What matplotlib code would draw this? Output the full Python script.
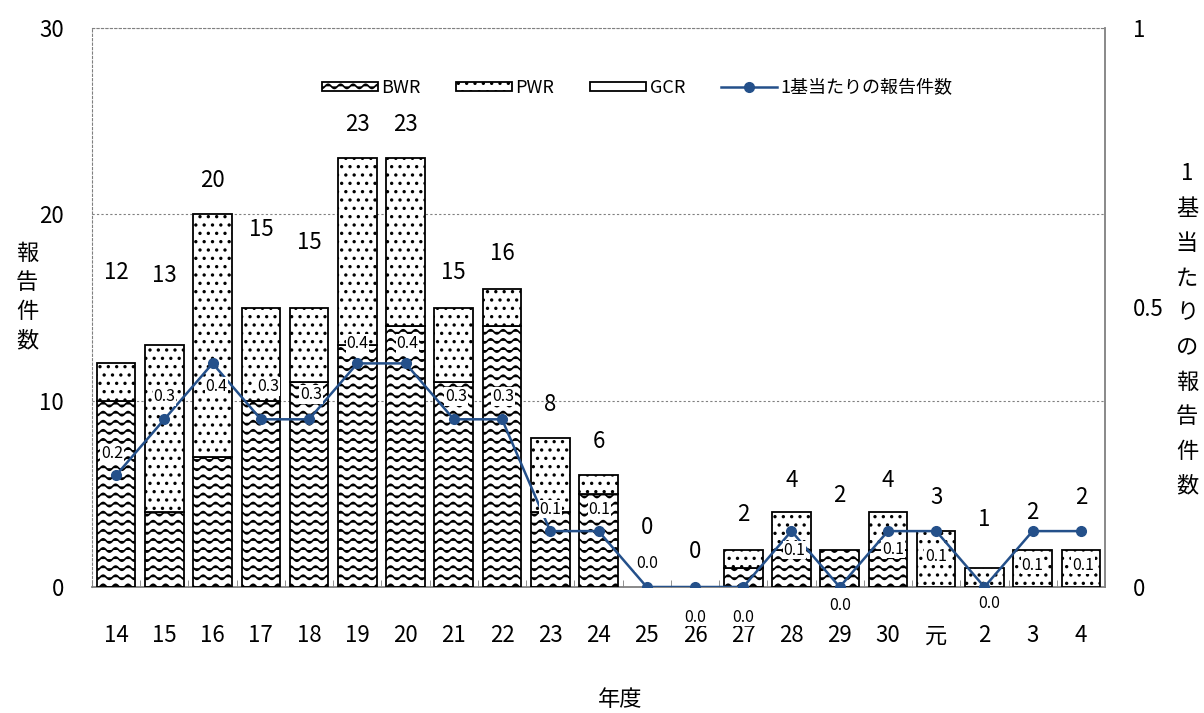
import warnings
import numpy as np
import matplotlib
matplotlib.use("Agg")
import matplotlib.pyplot as plt
import matplotlib.hatch as mhatch
from matplotlib.path import Path

warnings.filterwarnings("ignore", message=".*hatch must consist.*")

# ---------------- data ----------------
years = ['14', '15', '16', '17', '18', '19', '20', '21', '22', '23', '24',
         '25', '26', '27', '28', '29', '30', '元', '2', '3', '4']
bwr = [10, 4, 7, 10, 11, 13, 14, 11, 14, 4, 5, 0, 0, 1, 2, 2, 2, 0, 0, 0, 0]
pwr = [2, 9, 13, 5, 4, 10, 9, 4, 2, 4, 1, 0, 0, 1, 2, 0, 2, 3, 1, 2, 2]
gcr = [0] * 21
per_plant = [0.2, 0.3, 0.4, 0.3, 0.3, 0.4, 0.4, 0.3, 0.3, 0.1, 0.1,
             0.0, 0.0, 0.0, 0.1, 0.0, 0.1, 0.1, 0.0, 0.1, 0.1]

# label placement (styling)
total_label_y = [16.9, 16.7, 21.8, 19.2, 18.5, 24.8, 24.8, 16.9, 17.9, 9.8, 7.8,
                 3.2, 1.9, 3.9, 5.7, 4.9, 5.7, 4.8, 3.6, 4.0, 4.8]
line_label_dx = [-4, 0, 4, 7, 2, 0, 2, 2, 1, 0, 1, 0, 0, 0, 3, 0, 5, 0, 5, 0, 2]
line_label_dy = [22, 23, -23, 33, 25, 20, 20, 23, 23, 22, 22, 24, -30, -30,
                 -19, -18, -18, -25, -16, -34, -34]


# ---------------- custom wave hatch ----------------
class WaveHatch(mhatch.HatchPatternBase):
    def __init__(self, hatch, density):
        self.num_rows = 11 if '~' in hatch else 0
        self.pts = 129
        self.num_vertices = self.num_rows * self.pts

    def set_vertices_and_codes(self, vertices, codes):
        xs = np.linspace(0.0, 1.0, self.pts)
        for i in range(self.num_rows):
            y0 = (i + 0.5) / self.num_rows
            sl = slice(i * self.pts, (i + 1) * self.pts)
            vertices[sl, 0] = xs
            vertices[sl, 1] = y0 + 0.021 * np.sin(2 * np.pi * 8 * xs)
            codes[sl] = Path.LINETO
            codes[i * self.pts] = Path.MOVETO


mhatch._hatch_types.append(WaveHatch)

plt.rcParams['font.family'] = ['Noto Sans CJK JP', 'DejaVu Sans']
plt.rcParams['hatch.linewidth'] = 1.2

n = len(years)
x = np.arange(n)
bwr_a = np.array(bwr, float)
pwr_a = np.array(pwr, float)
gcr_a = np.array(gcr, float)
tot = bwr_a + pwr_a + gcr_a

def mask0(a):
    return np.where(a > 0, a, np.nan)

fig = plt.figure(figsize=(12.04, 7.13), dpi=100)
ax = fig.add_axes([92 / 1204, 1 - 587 / 713, (1105 - 92) / 1204, (587 - 28) / 713])

line_color = '#24508A'
bar_kw = dict(width=0.8, facecolor='white', edgecolor='black', linewidth=1.3, zorder=3)
b1 = ax.bar(x, mask0(bwr_a), bottom=0, hatch='~', label='BWR', **bar_kw)
b2 = ax.bar(x, mask0(pwr_a), bottom=bwr_a, hatch='..', label='PWR', **bar_kw)
b3 = ax.bar(x, mask0(gcr_a), bottom=bwr_a + pwr_a, label='GCR', **bar_kw)

ax.set_xlim(-0.5, n - 0.5)
ax.set_ylim(0, 30)
ax.set_yticks([0, 10, 20, 30])
ax.yaxis.grid(True, linestyle=(0, (2, 2)), color='#808080', linewidth=0.8)
ax.set_axisbelow(True)
ax.tick_params(axis='y', length=0, pad=20, labelsize=16)
ax.set_xticks(x)
ax.set_xticklabels(years)
ax.tick_params(axis='x', which='major', length=0, pad=27, labelsize=16)
ax.set_xticks(np.arange(n + 1) - 0.5, minor=True)
ax.tick_params(axis='x', which='minor', direction='in', length=5, color='#808080')

ax.spines['left'].set_linestyle((0, (2, 2)))
ax.spines['left'].set_color('#808080')
ax.spines['left'].set_linewidth(0.8)
ax.spines['top'].set_linestyle((0, (2, 2)))
ax.spines['top'].set_color('#808080')
ax.spines['top'].set_linewidth(0.8)
ax.spines['right'].set_visible(False)
ax.spines['bottom'].set_color('#808080')
ax.spines['bottom'].set_linewidth(1.3)

for xi, t, ly in zip(x, tot, total_label_y):
    ax.text(xi, ly, f"{int(t)}", ha='center', va='center', fontsize=16, zorder=6)

ax2 = ax.twinx()
ln, = ax2.plot(x, per_plant, color=line_color, marker='o', markersize=7,
               linewidth=1.8, label='1基当たりの報告件数', zorder=4)
ax2.set_ylim(0, 1)
ax2.set_yticks([0, 0.5, 1])
ax2.set_yticklabels(['0', '0.5', '1'])
ax2.tick_params(axis='y', length=0, pad=20, labelsize=16)
for s in ['left', 'top', 'bottom']:
    ax2.spines[s].set_visible(False)
ax2.spines['right'].set_color('#808080')
ax2.spines['right'].set_linewidth(1.3)

for xi, v, dx, dy in zip(x, per_plant, line_label_dx, line_label_dy):
    ax2.annotate(f"{v:.1f}", (xi, v), xytext=(dx * 0.72, dy * 0.72),
                 textcoords='offset points', ha='center', va='center',
                 fontsize=11.5, zorder=7,
                 bbox=dict(boxstyle='square,pad=0.05', facecolor='white',
                           edgecolor='none'))

fig.legend([b1, b2, b3, ln], ['BWR', 'PWR', 'GCR', '1基当たりの報告件数'],
           loc='center', bbox_to_anchor=(637 / 1204, 1 - 88 / 713), ncol=4,
           frameon=False, fontsize=13, handlelength=3.1, handleheight=0.45,
           handletextpad=0.17, columnspacing=2.0)

fig.text(27 / 1204, 1 - 297 / 713, '\n'.join('報告件数'), ha='center', va='center',
         fontsize=16, linespacing=1.35)
fig.text(1187 / 1204, 1 - 330 / 713, '\n'.join('1基当たりの報告件数'), ha='center',
         va='center', fontsize=16, linespacing=1.65)
fig.text(620 / 1204, 1 - 700 / 713, '年度', ha='center', va='center', fontsize=16)

fig.savefig('out.png', dpi=100)
